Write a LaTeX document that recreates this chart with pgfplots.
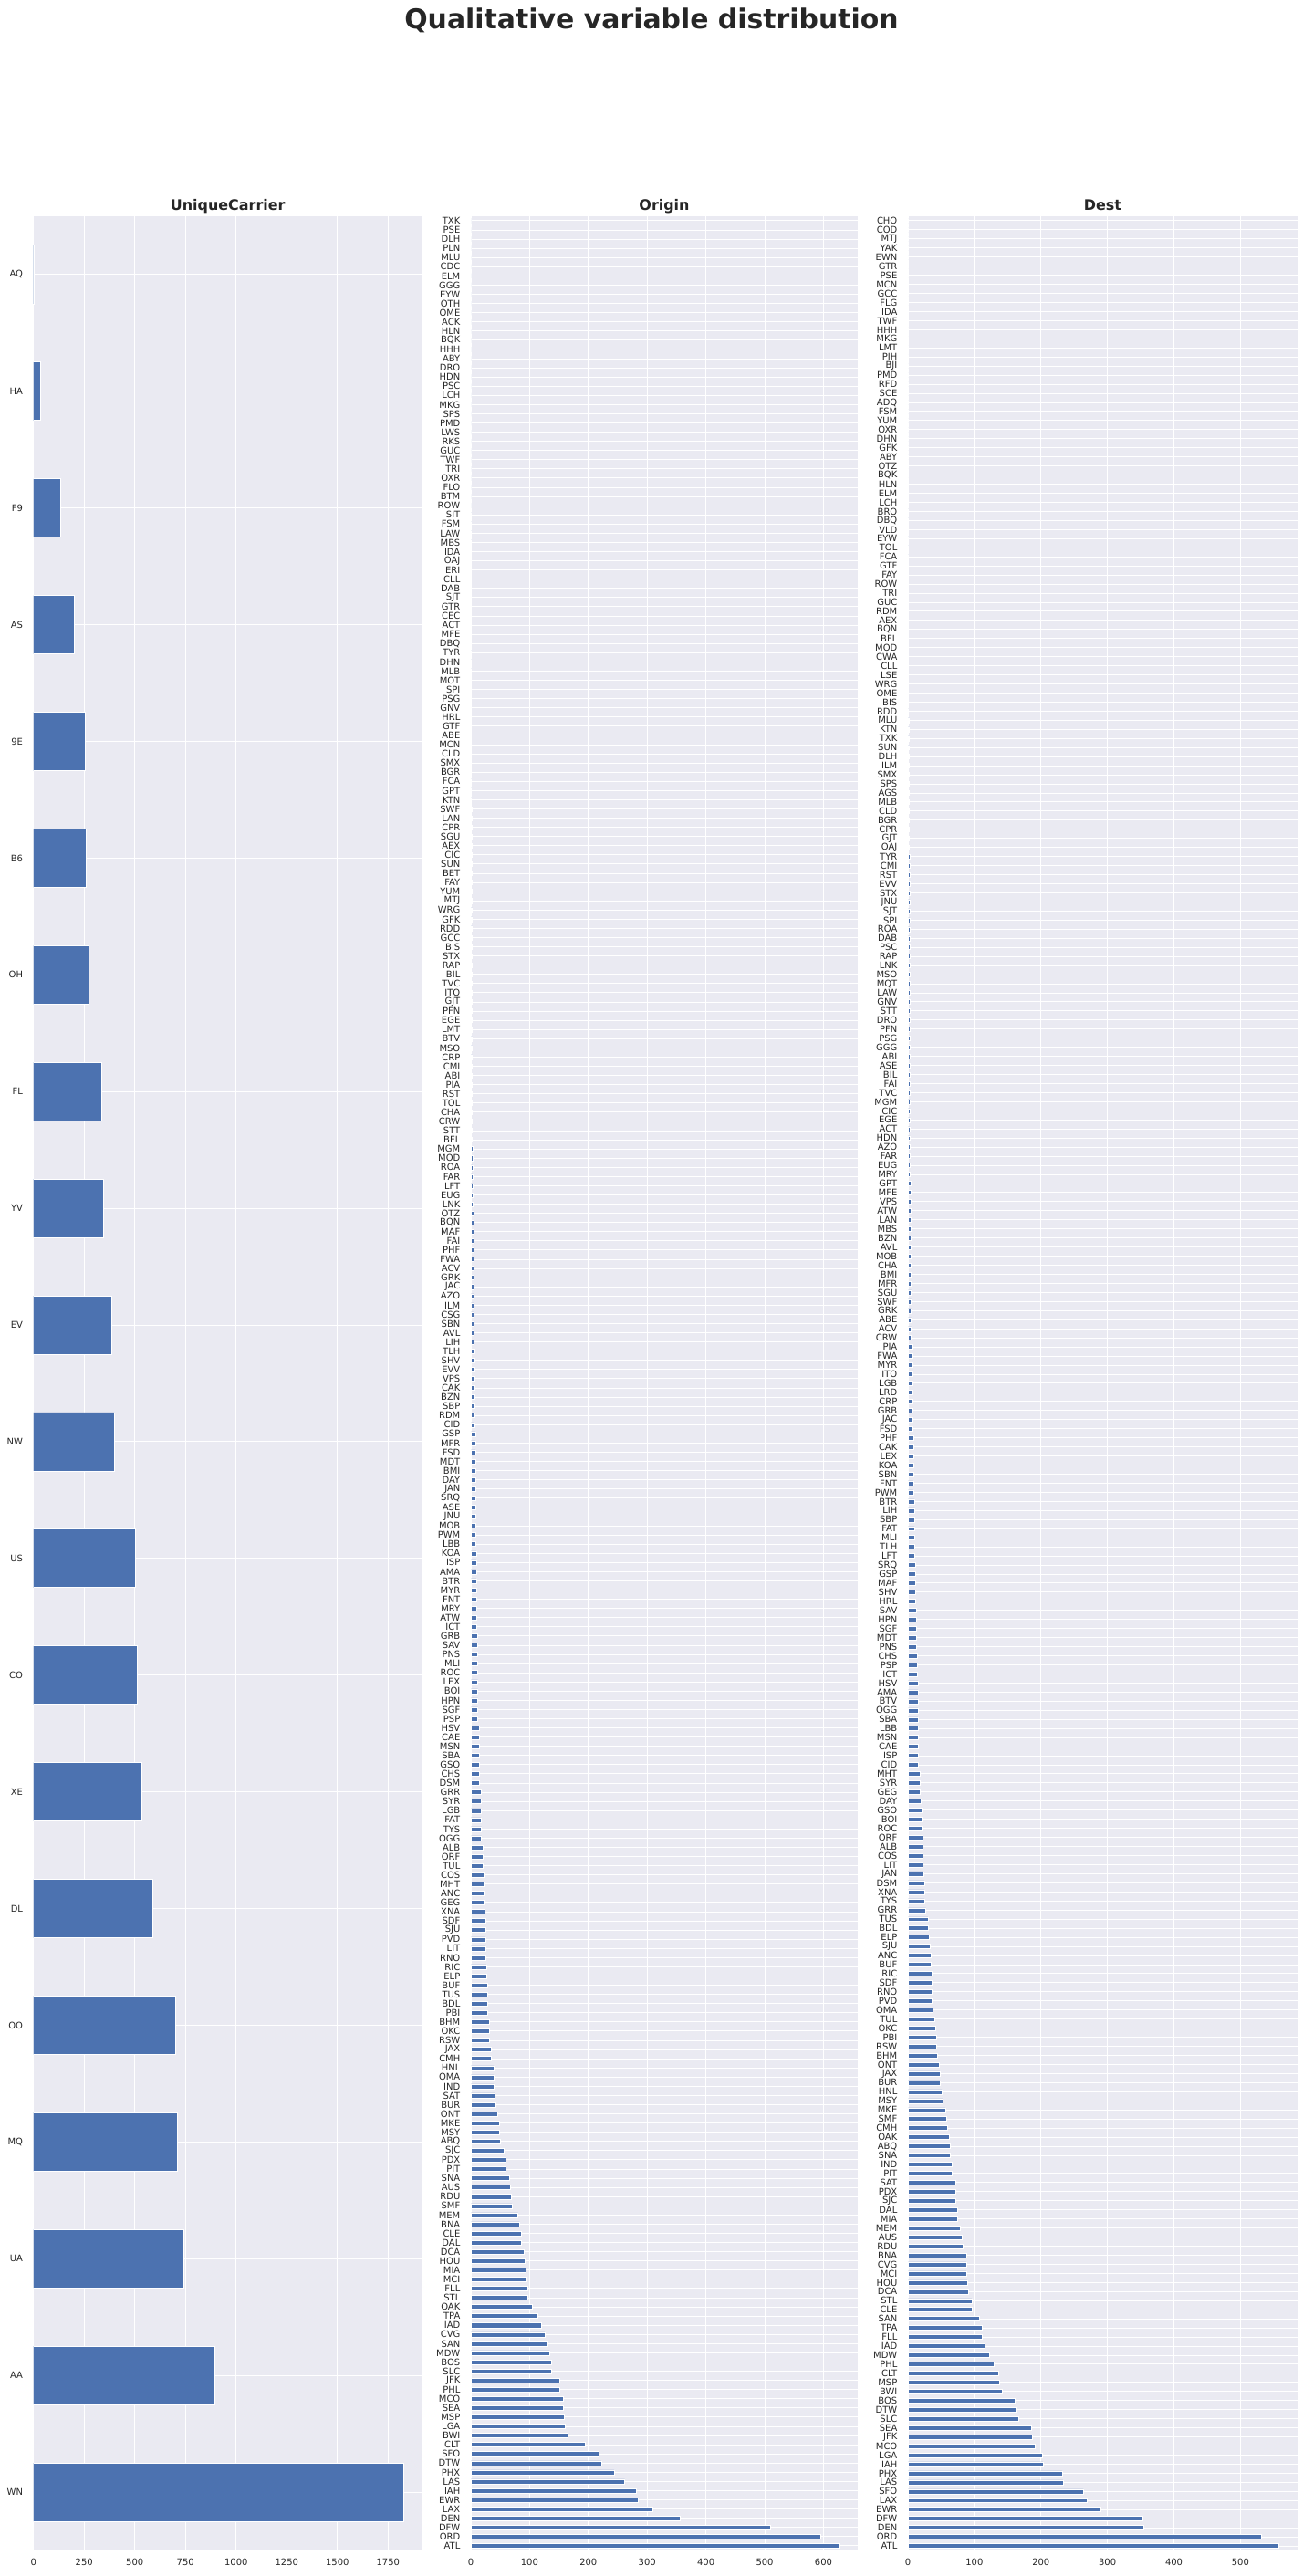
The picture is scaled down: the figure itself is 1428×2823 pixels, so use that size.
\documentclass[border=0pt]{standalone}
\usepackage{fontspec}
\setmainfont{DejaVu Sans}
\usepackage{pgfplots}
\usepackage{pgfplotstable}
\pgfplotsset{compat=1.18}
\definecolor{bg}{HTML}{EAEAF2}
\definecolor{barblue}{HTML}{4C72B0}
\definecolor{txt}{HTML}{262626}

\pgfplotstableread[row sep=\\]{
name v\\
WN 1827\\ AA 893\\ UA 740\\ MQ 708\\ OO 699\\ DL 587\\ XE 533\\ CO 510\\ US 501\\ NW 398\\
EV 384\\ YV 344\\ FL 335\\ OH 272\\ B6 258\\ 9E 254\\ AS 200\\ F9 132\\ HA 33\\ AQ 2\\
}\carrier

\pgfplotstableread[row sep=\\]{
name v\\
ATL 627\\ ORD 595\\ DFW 510\\ DEN 356\\ LAX 309\\ EWR 285\\ IAH 282\\ LAS 262\\ PHX 244\\ DTW 222\\
SFO 218\\ CLT 194\\ BWI 165\\ LGA 161\\ MSP 158\\ SEA 157\\ MCO 157\\ PHL 151\\ JFK 151\\ SLC 137\\
BOS 137\\ MDW 134\\ SAN 131\\ CVG 126\\ IAD 120\\ TPA 114\\ OAK 105\\ STL 96\\ FLL 96\\ MCI 95\\
MIA 94\\ HOU 92\\ DCA 90\\ DAL 86\\ CLE 86\\ BNA 83\\ MEM 80\\ SMF 70\\ RDU 69\\ AUS 67\\
SNA 66\\ PIT 60\\ PDX 60\\ SJC 56\\ ABQ 50\\ MSY 49\\ MKE 48\\ ONT 45\\ BUR 43\\ SAT 41\\
IND 39\\ OMA 39\\ HNL 39\\ CMH 34\\ JAX 34\\ RSW 32\\ OKC 31\\ BHM 31\\ PBI 29\\ BDL 29\\
TUS 29\\ BUF 28\\ ELP 26\\ RIC 26\\ RNO 25\\ LIT 25\\ PVD 25\\ SJU 25\\ SDF 25\\ XNA 23\\
GEG 22\\ ANC 22\\ MHT 22\\ COS 22\\ TUL 20\\ ORF 20\\ ALB 20\\ OGG 18\\ TYS 18\\ FAT 17\\
LGB 17\\ SYR 17\\ GRR 17\\ DSM 15\\ CHS 15\\ GSO 15\\ SBA 15\\ MSN 14\\ CAE 14\\ HSV 14\\
PSP 12\\ SGF 12\\ HPN 12\\ BOI 12\\ LEX 12\\ ROC 12\\ MLI 12\\ PNS 11\\ SAV 11\\ GRB 11\\
ICT 10\\ ATW 10\\ MRY 10\\ FNT 10\\ MYR 10\\ BTR 9\\ AMA 9\\ ISP 9\\ KOA 9\\ LBB 8\\
PWM 8\\ MOB 8\\ JNU 8\\ ASE 8\\ SRQ 8\\ JAN 8\\ DAY 8\\ BMI 8\\ MDT 8\\ FSD 8\\
MFR 8\\ GSP 8\\ CID 6\\ RDM 6\\ SBP 6\\ BZN 6\\ CAK 6\\ VPS 6\\ EVV 6\\ SHV 6\\
TLH 6\\ LIH 5\\ AVL 5\\ SBN 5\\ CSG 5\\ ILM 5\\ AZO 5\\ JAC 5\\ GRK 5\\ ACV 5\\
FWA 5\\ PHF 5\\ FAI 5\\ MAF 5\\ BQN 5\\ OTZ 5\\ LNK 3\\ EUG 3\\ LFT 3\\ FAR 3\\
ROA 3\\ MOD 3\\ MGM 3\\ BFL 2\\ STT 2\\ CRW 2\\ CHA 2\\ TOL 2\\ RST 2\\ PIA 2\\
ABI 2\\ CMI 2\\ CRP 2\\ MSO 2\\ BTV 2\\ LMT 2\\ EGE 2\\ PFN 2\\ GJT 2\\ ITO 2\\
TVC 2\\ BIL 2\\ RAP 2\\ STX 2\\ BIS 2\\ GCC 2\\ RDD 2\\ GFK 2\\ WRG 2\\ MTJ 2\\
YUM 2\\ FAY 2\\ BET 2\\ SUN 2\\ CIC 2\\ AEX 2\\ SGU 2\\ CPR 2\\ LAN 2\\ SWF 2\\
KTN 1\\ GPT 1\\ FCA 1\\ BGR 1\\ SMX 1\\ CLD 1\\ MCN 1\\ ABE 1\\ GTF 1\\ HRL 1\\
GNV 1\\ PSG 1\\ SPI 1\\ MOT 1\\ MLB 1\\ DHN 1\\ TYR 1\\ DBQ 1\\ MFE 1\\ ACT 1\\
CEC 1\\ GTR 1\\ SJT 1\\ DAB 1\\ CLL 1\\ ERI 1\\ OAJ 1\\ IDA 1\\ MBS 1\\ LAW 1\\
FSM 1\\ SIT 1\\ ROW 0\\ BTM 0\\ FLO 0\\ OXR 0\\ TRI 0\\ TWF 0\\ GUC 0\\ RKS 0\\
LWS 0\\ PMD 0\\ SPS 0\\ MKG 0\\ LCH 0\\ PSC 0\\ HDN 0\\ DRO 0\\ ABY 0\\ HHH 0\\
BQK 0\\ HLN 0\\ ACK 0\\ OME 0\\ OTH 0\\ EYW 0\\ GGG 0\\ ELM 0\\ CDC 0\\ MLU 0\\
PLN 0\\ DLH 0\\ PSE 0\\ TXK 0\\
}\origin

\pgfplotstableread[row sep=\\]{
name v\\
ATL 558\\ ORD 532\\ DEN 354\\ DFW 353\\ EWR 290\\ LAX 269\\ SFO 264\\ LAS 233\\ PHX 232\\ IAH 203\\
LGA 202\\ MCO 191\\ JFK 187\\ SEA 185\\ SLC 166\\ DTW 163\\ BOS 161\\ BWI 141\\ MSP 137\\ CLT 136\\
PHL 129\\ MDW 122\\ IAD 115\\ FLL 111\\ TPA 111\\ SAN 107\\ CLE 97\\ STL 96\\ DCA 91\\ HOU 89\\
MCI 88\\ CVG 88\\ BNA 88\\ RDU 82\\ AUS 81\\ MEM 78\\ MIA 75\\ DAL 75\\ SJC 71\\ PDX 71\\
SAT 71\\ PIT 66\\ IND 66\\ SNA 64\\ ABQ 63\\ OAK 62\\ CMH 59\\ SMF 58\\ MKE 56\\ MSY 52\\
HNL 51\\ BUR 48\\ JAX 48\\ ONT 47\\ BHM 44\\ RSW 43\\ PBI 43\\ OKC 41\\ TUL 40\\ OMA 37\\
PVD 36\\ RNO 36\\ SDF 36\\ RIC 36\\ BUF 34\\ ANC 34\\ SJU 33\\ ELP 32\\ BDL 30\\ TUS 30\\
GRR 27\\ TYS 25\\ XNA 25\\ DSM 25\\ JAN 23\\ LIT 22\\ COS 22\\ ALB 22\\ ORF 22\\ ROC 21\\
BOI 21\\ GSO 21\\ DAY 19\\ GEG 18\\ SYR 18\\ MHT 18\\ CID 16\\ ISP 16\\ CAE 15\\ MSN 15\\
LBB 15\\ SBA 15\\ OGG 15\\ BTV 15\\ AMA 15\\ HSV 15\\ ICT 14\\ PSP 14\\ CHS 14\\ PNS 12\\
MDT 12\\ SGF 12\\ HPN 12\\ SAV 12\\ HRL 11\\ SHV 11\\ MAF 11\\ GSP 11\\ SRQ 11\\ LFT 10\\
TLH 10\\ MLI 10\\ FAT 10\\ SBP 10\\ LIH 10\\ BTR 10\\ PWM 8\\ FNT 8\\ SBN 8\\ KOA 8\\
LEX 8\\ CAK 8\\ PHF 8\\ FSD 7\\ JAC 7\\ GRB 7\\ CRP 7\\ LRD 7\\ LGB 7\\ ITO 7\\
MYR 7\\ FWA 7\\ PIA 7\\ CRW 5\\ ACV 5\\ ABE 5\\ GRK 5\\ SWF 5\\ SGU 5\\ MFR 5\\
BMI 5\\ CHA 4\\ MOB 4\\ AVL 4\\ BZN 4\\ MBS 4\\ LAN 4\\ ATW 4\\ VPS 4\\ MFE 4\\
GPT 4\\ MRY 3\\ EUG 3\\ FAR 3\\ AZO 3\\ HDN 3\\ ACT 3\\ EGE 3\\ CIC 3\\ MGM 3\\
TVC 3\\ FAI 3\\ BIL 3\\ ASE 3\\ ABI 3\\ GGG 3\\ PSG 3\\ PFN 3\\ DRO 3\\ STT 3\\
GNV 3\\ LAW 3\\ MQT 3\\ MSO 3\\ LNK 3\\ RAP 3\\ PSC 3\\ DAB 3\\ ROA 3\\ SPI 3\\
SJT 3\\ JNU 3\\ STX 3\\ EVV 3\\ RST 3\\ CMI 3\\ TYR 3\\ OAJ 2\\ GJT 2\\ CPR 2\\
BGR 2\\ CLD 2\\ MLB 2\\ AGS 2\\ SPS 2\\ SMX 2\\ ILM 2\\ DLH 2\\ SUN 2\\ TXK 2\\
KTN 2\\ MLU 2\\ RDD 1\\ BIS 1\\ OME 1\\ WRG 1\\ LSE 1\\ CLL 1\\ CWA 1\\ MOD 1\\
BFL 1\\ BQN 1\\ AEX 1\\ RDM 1\\ GUC 1\\ TRI 1\\ ROW 1\\ FAY 1\\ GTF 1\\ FCA 1\\
TOL 1\\ EYW 1\\ VLD 1\\ DBQ 1\\ BRO 1\\ LCH 1\\ ELM 1\\ HLN 1\\ BQK 0\\ OTZ 0\\
ABY 0\\ GFK 0\\ DHN 0\\ OXR 0\\ YUM 0\\ FSM 0\\ ADQ 0\\ SCE 0\\ RFD 0\\ PMD 0\\
BJI 0\\ PIH 0\\ LMT 0\\ MKG 0\\ HHH 0\\ TWF 0\\ IDA 0\\ FLG 0\\ GCC 0\\ MCN 0\\
PSE 0\\ GTR 0\\ EWN 0\\ YAK 0\\ MTJ 0\\ COD 0\\ CHO 0\\
}\dest

\pgfplotsset{qual/.style={
  scale only axis, height=2558bp,
  axis background/.style={fill=bg},
  axis line style={draw=none},
  major tick length=0pt,
  grid=major, major grid style={white, line width=1bp},
  tick label style={font=\fontsize{10}{12}\selectfont, text=txt},
  yticklabel style={anchor=east, inner sep=0pt, xshift=-11.5bp},
  xticklabel style={anchor=north, inner sep=0pt, yshift=-9bp},
  /pgf/number format/assume math mode=true,
  /pgf/number format/1000 sep={},
  xmin=0, ymin=-0.5,
  anchor=south west,
}}

\begin{document}
\begin{tikzpicture}
\useasboundingbox (0,0) rectangle (1428bp,2823bp);

\begin{axis}[qual, at={(36.7bp,28bp)}, width=426bp,
  xmax=1918.35, ymax=19.5,
  ytick={0,...,19},
  yticklabels from table={\carrier}{name},
  xtick={0,250,...,1750}]
\addplot[xbar, bar width=0.5, fill=barblue, draw=white, line width=0.8bp]
  table[x=v, y expr=\coordindex] {\carrier};
\end{axis}

\begin{axis}[qual, at={(516bp,28bp)}, width=424bp,
  xmax=658.35, ymax=253.5,
  ytick={0,...,253},
  yticklabels from table={\origin}{name},
  xtick={0,100,...,600}]
\addplot[xbar, bar width=0.5, fill=barblue, draw=white, line width=0.5bp]
  table[x=v, y expr=\coordindex] {\origin};
\end{axis}

\begin{axis}[qual, at={(995bp,28bp)}, width=427bp,
  xmax=585.9, ymax=256.5,
  ytick={0,...,256},
  yticklabels from table={\dest}{name},
  xtick={0,100,...,500}]
\addplot[xbar, bar width=0.5, fill=barblue, draw=white, line width=0.5bp]
  table[x=v, y expr=\coordindex] {\dest};
\end{axis}

\node[anchor=base, inner sep=0pt, text=txt, font=\fontsize{16}{18}\selectfont\bfseries] at (249.7bp,2592bp) {UniqueCarrier};
\node[anchor=base, inner sep=0pt, text=txt, font=\fontsize{16}{18}\selectfont\bfseries] at (728bp,2592bp) {Origin};
\node[anchor=base, inner sep=0pt, text=txt, font=\fontsize{16}{18}\selectfont\bfseries] at (1208.5bp,2592bp) {Dest};
\node[anchor=base, inner sep=0pt, text=txt, font=\fontsize{30}{36}\selectfont\bfseries] at (714bp,2791bp) {Qualitative variable distribution};
\end{tikzpicture}
\end{document}
